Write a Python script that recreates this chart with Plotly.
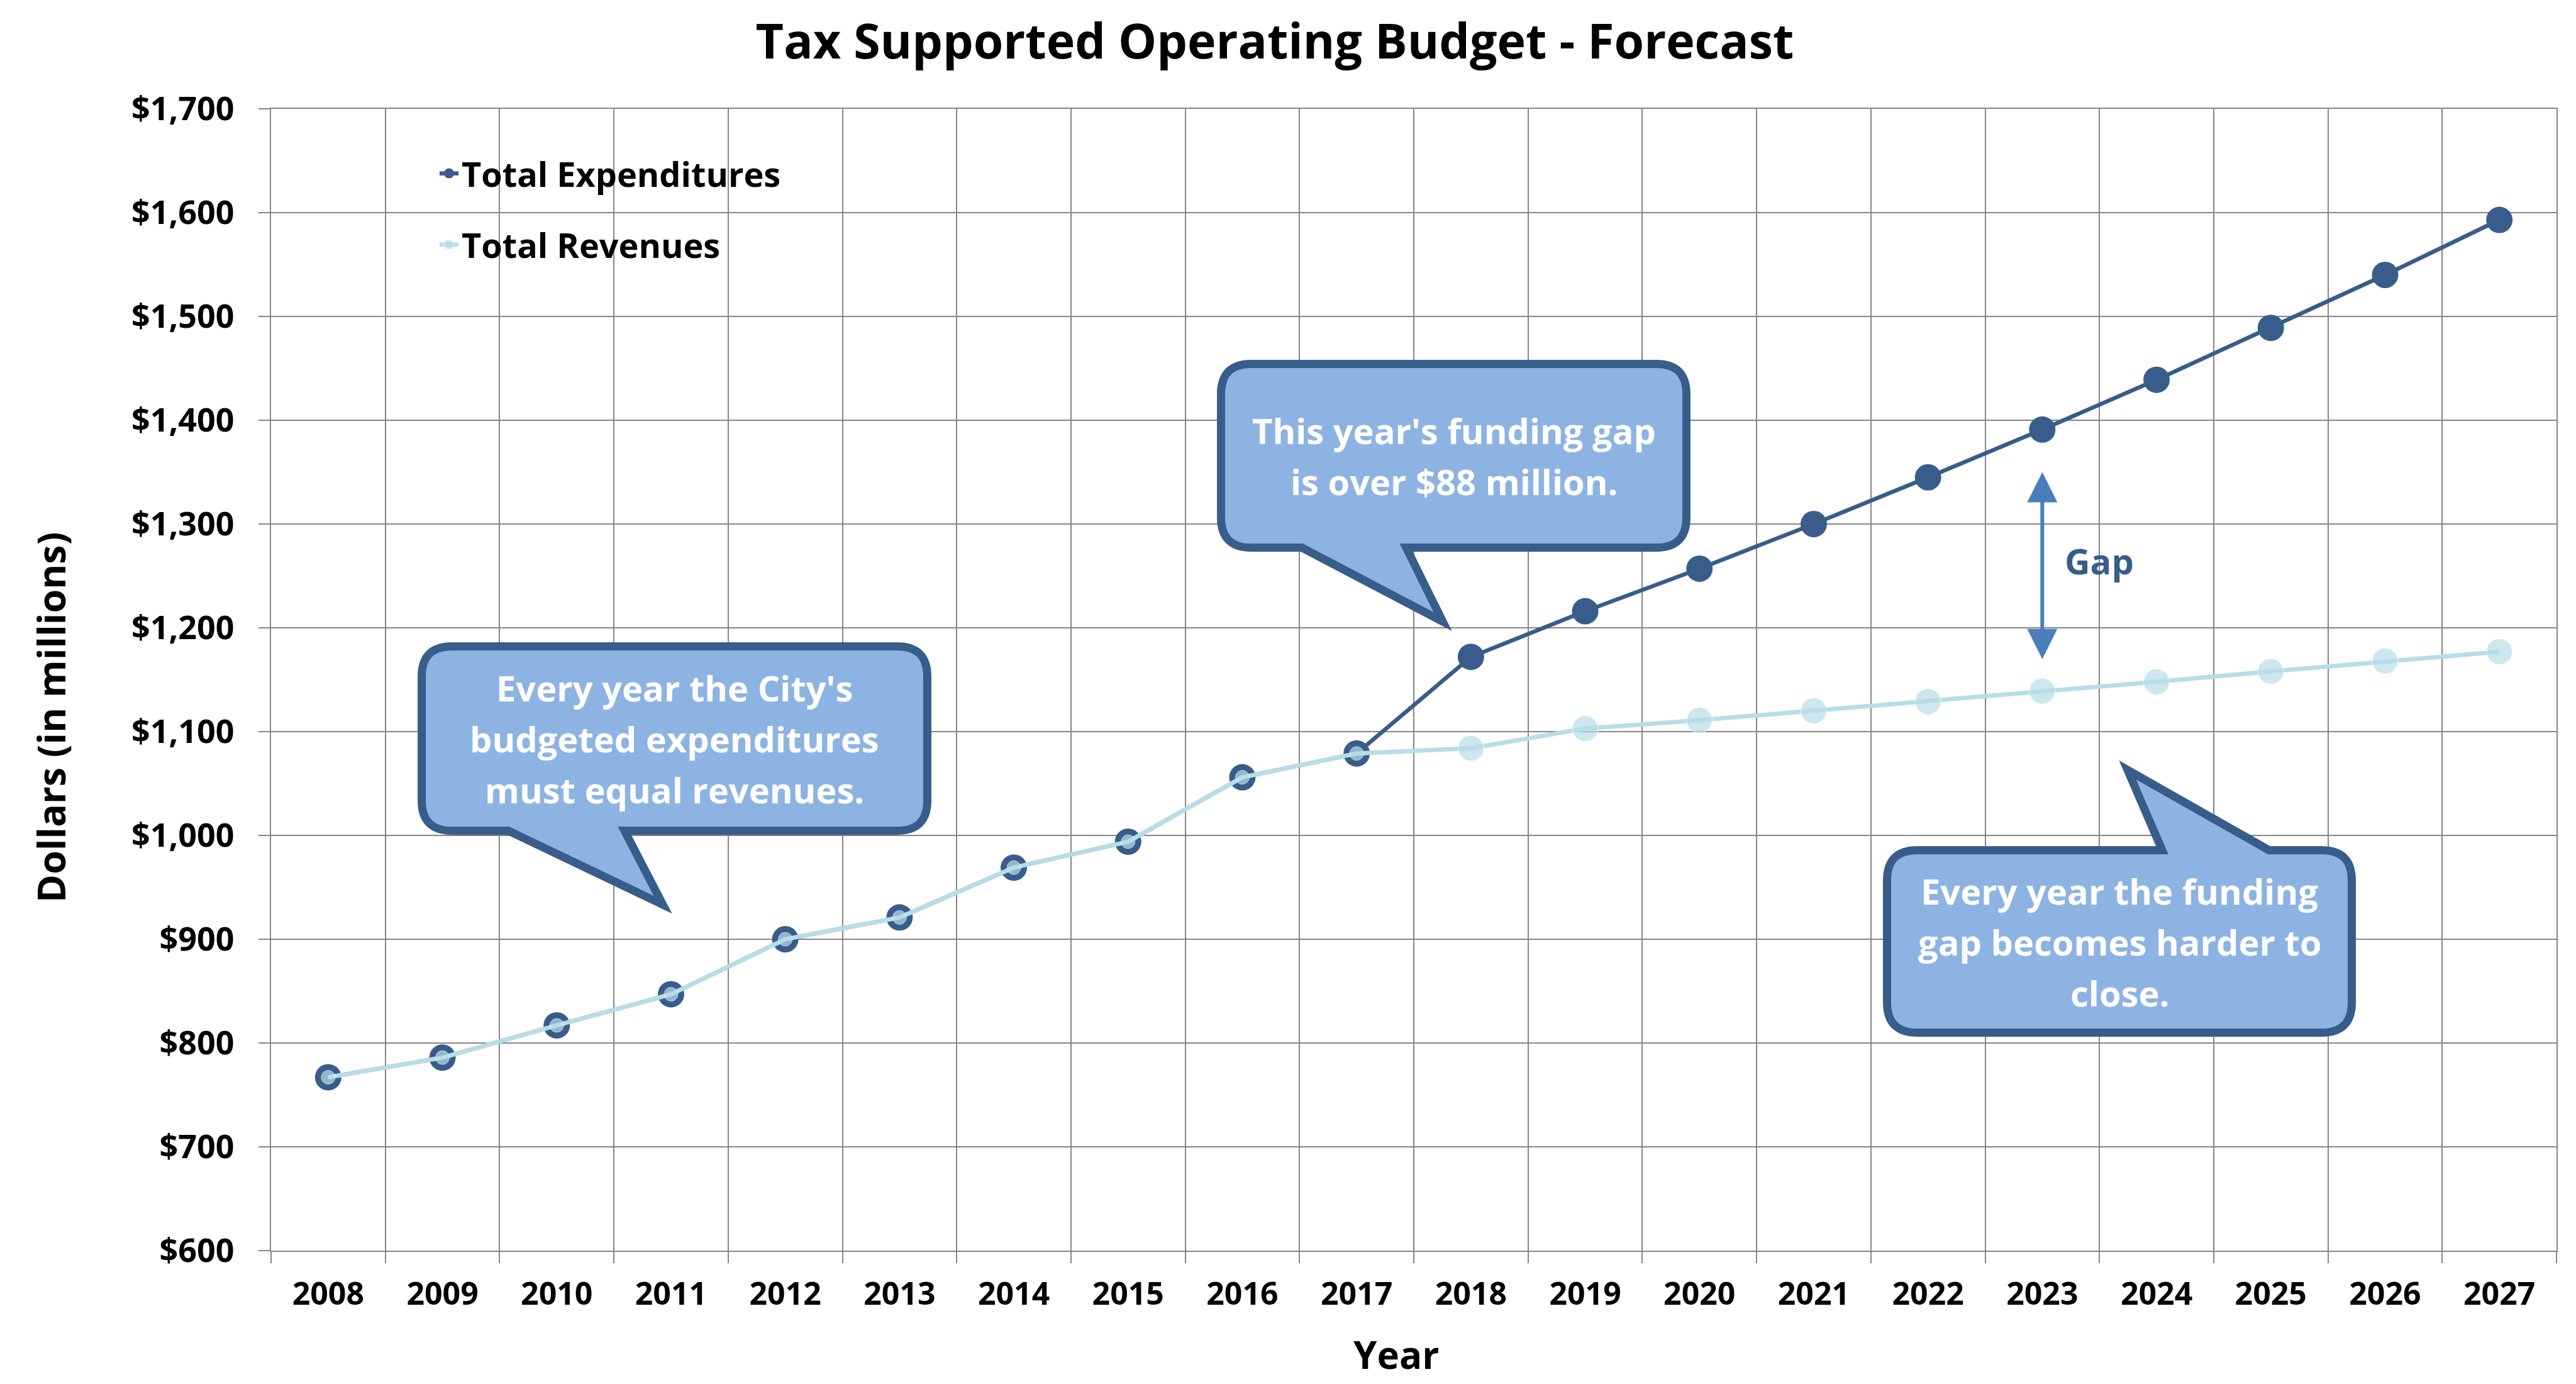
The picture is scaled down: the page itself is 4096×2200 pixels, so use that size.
import plotly.graph_objects as go

# ---------------- data ----------------
years = ["2008", "2009", "2010", "2011", "2012", "2013", "2014", "2015", "2016", "2017",
         "2018", "2019", "2020", "2021", "2022", "2023", "2024", "2025", "2026", "2027"]
expenditures = [767, 786, 817, 847, 900, 921, 969, 994, 1056, 1079,
                1172, 1216, 1257, 1300, 1345, 1391, 1439, 1489, 1540, 1593]
revenues = [767, 786, 817, 847, 900, 921, 969, 994, 1056, 1079,
            1084, 1103, 1111, 1120, 1129, 1139, 1148, 1158, 1168, 1177]
y_ticks = [600, 700, 800, 900, 1000, 1100, 1200, 1300, 1400, 1500, 1600, 1700]

title_text = "Tax Supported Operating Budget - Forecast"
x_title = "Year"
y_title = "Dollars (in millions)"
callout_texts = [
    ["Every year the City's", "budgeted expenditures", "must equal revenues."],
    ["This year's funding gap", "is over $88 million."],
    ["Every year the funding", "gap becomes harder to", "close."],
]
gap_label = "Gap"
gap_year = "2023"
last_actual_year = "2017"

# ---------------- layout geometry (pixels) ----------------
W, H = 4096, 2200
PL, PR, PT, PB = 423, 4057, 165, 1980
PW, PH = PR - PL, PB - PT

FONT = "Open Sans"
EXP_COLOR = "#385D8A"
REV_COLOR = "#B7DDE8"
GRID = "#868686"
CALLOUT_FILL = "#8DB3E2"
CALLOUT_LINE = "#385D8A"


def px(x):
    return (x - PL) / PW


def py(y):
    return (PB - y) / PH


def callout_path(x0, y0, x1, y1, r, side, b0, b1, tip):
    def P(x, y):
        return f"{px(x):.5f},{py(y):.5f}"

    d = f"M {P(x0 + r, y0)} "
    if side == "top":
        d += f"L {P(b0, y0)} L {P(*tip)} L {P(b1, y0)} "
    d += f"L {P(x1 - r, y0)} Q {P(x1, y0)} {P(x1, y0 + r)} "
    d += f"L {P(x1, y1 - r)} Q {P(x1, y1)} {P(x1 - r, y1)} "
    if side == "bottom":
        d += f"L {P(b1, y1)} L {P(*tip)} L {P(b0, y1)} "
    d += f"L {P(x0 + r, y1)} Q {P(x0, y1)} {P(x0, y1 - r)} "
    d += f"L {P(x0, y0 + r)} Q {P(x0, y0)} {P(x0 + r, y0)} Z"
    return d


fig = go.Figure()

last_idx = years.index(last_actual_year)
rev_sizes = [22 if i <= last_idx else 41 for i in range(len(years))]

fig.add_trace(go.Scatter(
    x=years, y=expenditures, name="Total Expenditures", mode="lines+markers",
    line=dict(color=EXP_COLOR, width=6.5),
    marker=dict(color=EXP_COLOR, size=42),
    legendgroup="exp",
))
fig.add_trace(go.Scatter(
    x=years, y=revenues, name="Total Revenues", mode="lines+markers",
    line=dict(color=REV_COLOR, width=7),
    marker=dict(color=REV_COLOR, size=rev_sizes),
    legendgroup="rev",
))

shapes = []
# legend white box (covers gridlines)
shapes.append(dict(type="rect", xref="paper", yref="paper",
                   x0=px(533), x1=px(1363), y0=py(445), y1=py(221),
                   fillcolor="white", line=dict(width=0), layer="between"))

SW = 13
h = SW / 2
callouts = [
    # outer box x0,y0,x1,y1 ; tail side ; base b0,b1 ; tip
    ((656, 1013, 1473, 1319), "bottom", (800, 985), (1046, 1430)),
    ((1927, 564, 2680, 869), "bottom", (2062, 2228), (2286, 980)),
    ((2986, 1337, 3738, 1640), "top", (3430, 3600), (3375, 1216)),
]
for (bx0, by0, bx1, by1), side, (b0, b1), tip in callouts:
    shapes.append(dict(
        type="path", xref="paper", yref="paper",
        path=callout_path(bx0 + h, by0 + h, bx1 - h, by1 - h, 48, side, b0, b1, tip),
        fillcolor=CALLOUT_FILL, line=dict(color=CALLOUT_LINE, width=SW), layer="above"))

annotations = []
LINE_STEP = 81
for ((bx0, by0, bx1, by1), side, _, _), lines in zip(callouts, callout_texts):
    cx = (bx0 + bx1) / 2
    cy = (by0 + by1) / 2
    n = len(lines)
    for k, line in enumerate(lines):
        ly = cy + (k - (n - 1) / 2) * LINE_STEP
        annotations.append(dict(
            xref="paper", yref="paper", x=px(cx), y=py(ly),
            text=line, showarrow=False, align="center", xanchor="center", yanchor="middle",
            font=dict(family=FONT, size=56, color="white", weight="bold")))

gap_idx = years.index(gap_year)
gap_top = expenditures[gap_idx] - 41
gap_bot = revenues[gap_idx] + 30
annotations.append(dict(
    x=gap_idx, y=gap_top, ax=gap_idx, ay=gap_bot, xref="x", yref="y",
    axref="x", ayref="y", text="", showarrow=True, arrowhead=2, arrowside="end+start",
    arrowsize=1.6, arrowwidth=6, arrowcolor="#4A7EBB", standoff=0, startstandoff=0))
annotations.append(dict(
    x=gap_idx + 0.5, y=(expenditures[gap_idx] + revenues[gap_idx]) / 2, xref="x", yref="y",
    text=gap_label, showarrow=False, xanchor="center", yanchor="middle",
    font=dict(family=FONT, size=56, color="#385D8A", weight="bold")))

# axis titles placed as annotations to match the reference positions
annotations.append(dict(
    xref="paper", yref="paper", x=px(2212), y=py(2145), text=x_title, showarrow=False,
    xanchor="center", yanchor="middle",
    font=dict(family=FONT, size=60, color="black", weight="bold")))
annotations.append(dict(
    xref="paper", yref="paper", x=px(72), y=py(1133), text=y_title, showarrow=False,
    textangle=-90, xanchor="center", yanchor="middle",
    font=dict(family=FONT, size=61, color="black", weight="bold")))

fig.update_layout(
    width=W, height=H,
    paper_bgcolor="white", plot_bgcolor="white",
    margin=dict(l=PL, r=W - PR, t=PT, b=H - PB, autoexpand=False),
    title=dict(text=title_text, x=2019 / W, y=1 - 58 / H, xref="container", yref="container",
               xanchor="center", yanchor="middle",
               font=dict(family=FONT, size=77, color="black", weight="bold")),
    showlegend=True,
    legend=dict(x=px(686), y=py(226), xanchor="left", yanchor="top",
                bgcolor="rgba(0,0,0,0)", tracegroupgap=40,
                font=dict(family=FONT, size=54, color="black", weight="bold")),
    shapes=shapes,
    annotations=annotations,
    font=dict(family=FONT, color="black"),
)

fig.update_xaxes(
    type="category", categoryorder="array", categoryarray=years,
    range=[-0.5, len(years) - 0.5],
    tickson="boundaries", ticks="outside", ticklen=18, tickwidth=2, tickcolor=GRID,
    showgrid=True, gridcolor=GRID, gridwidth=2.2,
    showline=True, linecolor=GRID, linewidth=2.2, mirror=True,
    ticklabelstandoff=24,
    tickfont=dict(family=FONT, size=50, color="black", weight="bold"),
    automargin=False,
)
fig.update_yaxes(
    range=[600, 1700], tickvals=y_ticks, tickformat="$,.0f",
    ticks="outside", ticklen=18, tickwidth=2, tickcolor=GRID,
    showgrid=True, gridcolor=GRID, gridwidth=2.2,
    showline=True, linecolor=GRID, linewidth=2.2, mirror=True,
    zeroline=False, ticklabelstandoff=28,
    tickfont=dict(family=FONT, size=52, color="black", weight="bold"),
    automargin=False,
)

fig.write_html("out.html")
